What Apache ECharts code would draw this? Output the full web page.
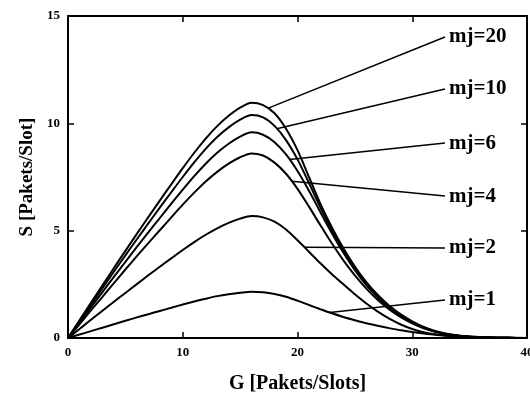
<!DOCTYPE html>
<html>
<head>
<meta charset="utf-8">
<script src="https://cdn.jsdelivr.net/npm/echarts@6/dist/echarts.min.js"></script>
<style>
html,body{margin:0;padding:0;background:#fff;}
#chart{width:530px;height:394px;}
</style>
</head>
<body>
<div id="chart"></div>
<script>
// Offered load G (Pakets/Slots)
var G = [0,1,2,3,4,5,6,7,8,9,10,11,12,13,14,15,16,17,18,19,20,21,22,23,24,25,26,27,28,29,30,31,32,33,34,35,36,37,38,39,40];
// Throughput S (Pakets/Slot) per mj
var mj20 = [0,0.82,1.64,2.45,3.26,4.06,4.85,5.63,6.40,7.16,7.91,8.63,9.29,9.87,10.35,10.73,10.96,10.85,10.47,9.75,8.75,7.5,6.25,5.15,4.18,3.33,2.6,2.0,1.5,1.1,0.78,0.52,0.33,0.2,0.12,0.07,0.04,0.02,0.01,0,0];
var mj10 = [0,0.78,1.55,2.32,3.09,3.85,4.60,5.34,6.07,6.79,7.50,8.18,8.81,9.36,9.81,10.17,10.39,10.28,9.88,9.22,8.32,7.22,6.08,5.02,4.06,3.22,2.5,1.92,1.44,1.05,0.74,0.49,0.31,0.19,0.11,0.07,0.04,0.02,0.01,0,0];
var mj6  = [0,0.72,1.43,2.14,2.85,3.55,4.24,4.92,5.59,6.26,6.91,7.54,8.12,8.63,9.05,9.38,9.58,9.47,9.12,8.55,7.78,6.86,5.86,4.88,3.97,3.16,2.46,1.88,1.4,1.01,0.71,0.47,0.3,0.18,0.11,0.06,0.04,0.02,0.01,0,0];
var mj4  = [0,0.64,1.29,1.92,2.56,3.19,3.81,4.42,5.02,5.62,6.21,6.77,7.29,7.74,8.12,8.42,8.6,8.5,8.17,7.65,6.95,6.12,5.25,4.4,3.62,2.92,2.3,1.77,1.33,0.97,0.68,0.45,0.29,0.18,0.11,0.06,0.04,0.02,0.01,0,0];
var mj2  = [0,0.42,0.85,1.27,1.69,2.1,2.51,2.92,3.32,3.71,4.1,4.47,4.81,5.11,5.36,5.56,5.68,5.62,5.42,5.05,4.55,4.02,3.48,2.97,2.5,2.04,1.61,1.23,0.9,0.63,0.42,0.27,0.17,0.11,0.07,0.04,0.03,0.02,0.01,0,0];
var mj1  = [0,0.16,0.32,0.48,0.64,0.8,0.96,1.11,1.26,1.41,1.56,1.7,1.83,1.95,2.04,2.11,2.16,2.13,2.05,1.92,1.74,1.54,1.34,1.15,0.98,0.83,0.69,0.57,0.46,0.36,0.28,0.21,0.15,0.11,0.08,0.05,0.03,0.02,0.01,0.01,0];

var curveNames = ['mj=20','mj=10','mj=6','mj=4','mj=2','mj=1'];
var curves = [mj20, mj10, mj6, mj4, mj2, mj1];
// Label annotations: G where each leader touches its curve, and label anchor (G, S)
var leaderG = [17.4, 18.2, 19.3, 19.5, 20.6, 22.8];
var labelG = [32.85, 32.85, 32.85, 32.85, 32.85, 32.85];
var labelS = [14.02, 11.6, 9.08, 6.61, 4.19, 1.77];

var xTicks = [0,10,20,30,40];
var yTicks = [0,5,10,15];

function interp(arr, g){
  var i = Math.floor(g), f = g - i;
  if (i >= G.length - 1) return arr[G.length - 1];
  return arr[i] * (1 - f) + arr[i + 1] * f;
}

var FONT = '"Liberation Serif", "DejaVu Serif", serif';
var series = [];
curves.forEach(function(arr, k){
  series.push({
    type: 'line', name: curveNames[k],
    data: G.map(function(g, i){ return [g, arr[i]]; }),
    showSymbol: false, smooth: 0.3,
    lineStyle: {color: '#000', width: 2},
    z: 3
  });
});
curves.forEach(function(arr, k){
  series.push({
    type: 'line',
    data: [[leaderG[k], interp(arr, leaderG[k])], [labelG[k], labelS[k]]],
    showSymbol: false,
    lineStyle: {color: '#000', width: 1.5},
    endLabel: {show: true, formatter: curveNames[k], distance: 4, color: '#000',
      fontFamily: FONT, fontSize: 21, fontWeight: 'bold'},
    z: 2
  });
});

var chart = echarts.init(document.getElementById('chart'), null, {renderer: 'canvas'});
var axisLbl = {color: '#000', fontFamily: FONT, fontSize: 13, fontWeight: 'bold'};
chart.setOption({
  animation: false,
  backgroundColor: '#fff',
  grid: {left: 68, right: 3, top: 16, bottom: 56, containLabel: false, outerBoundsMode: 'none'},
  xAxis: [{
    type: 'value', min: 0, max: 40, interval: 10,
    name: 'G [Pakets/Slots]', nameLocation: 'middle', nameGap: 36,
    nameTextStyle: {color: '#000', fontFamily: FONT, fontSize: 20, fontWeight: 'bold'},
    axisLine: {show: true, lineStyle: {color: '#000', width: 2}},
    axisTick: {show: true, inside: true, length: 6, lineStyle: {color: '#000', width: 1.5}},
    axisLabel: Object.assign({margin: 8, formatter: function(v){ return xTicks.indexOf(v) >= 0 ? String(v) : ''; }}, axisLbl),
    splitLine: {show: false}
  }, {
    type: 'value', min: 0, max: 40, interval: 10, position: 'top',
    axisLine: {show: true, onZero: false, lineStyle: {color: '#000', width: 2}},
    axisTick: {show: true, inside: true, length: 6, lineStyle: {color: '#000', width: 1.5}},
    axisLabel: {show: false}, splitLine: {show: false}
  }],
  yAxis: [{
    type: 'value', min: 0, max: 15, interval: 5,
    name: 'S [Pakets/Slot]', nameLocation: 'middle', nameGap: 30,
    nameTextStyle: {color: '#000', fontFamily: FONT, fontSize: 19, fontWeight: 'bold'},
    axisLine: {show: true, lineStyle: {color: '#000', width: 2}},
    axisTick: {show: true, inside: true, length: 6, lineStyle: {color: '#000', width: 1.5}},
    axisLabel: Object.assign({margin: 8, formatter: function(v){ return yTicks.indexOf(v) >= 0 ? String(v) : ''; }}, axisLbl),
    splitLine: {show: false}
  }, {
    type: 'value', min: 0, max: 15, interval: 5, position: 'right',
    axisLine: {show: true, onZero: false, lineStyle: {color: '#000', width: 2}},
    axisTick: {show: true, inside: true, length: 6, lineStyle: {color: '#000', width: 1.5}},
    axisLabel: {show: false}, splitLine: {show: false}
  }],
  series: series
});
</script>
</body>
</html>
